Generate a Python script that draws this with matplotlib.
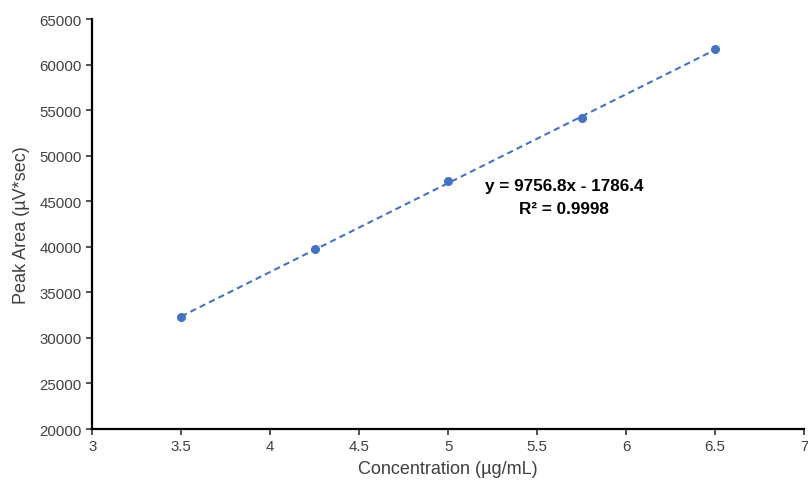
import matplotlib
matplotlib.use("Agg")
import matplotlib.pyplot as plt
import numpy as np

plt.rcParams['font.family'] = ['Liberation Sans', 'DejaVu Sans']

concentration = [3.5, 4.25, 5.0, 5.75, 6.5]
peak_area = [32300, 39750, 47200, 54150, 61700]
slope = 9756.8
intercept = -1786.4
r2 = 0.9998
x_ticks = [3, 3.5, 4, 4.5, 5, 5.5, 6, 6.5, 7]
x_tick_labels = ["3", "3.5", "4", "4.5", "5", "5.5", "6", "6.5", "7"]
y_ticks = [20000, 25000, 30000, 35000, 40000, 45000, 50000, 55000, 60000, 65000]

fig = plt.figure(figsize=(8.08, 4.81), dpi=100)
ax = fig.add_axes([0.114, 0.106, 0.881, 0.852])

color = '#4472C4'
xs = np.array([concentration[0], concentration[-1]])
ax.plot(xs, slope * xs + intercept, linestyle=(0, (3, 2)), color=color, linewidth=1.5)
ax.plot(concentration, peak_area, 'o', color=color, markersize=5.5)

ax.set_xlim(3, 7)
ax.set_ylim(20000, 65000)
ax.set_xticks(x_ticks)
ax.set_xticklabels(x_tick_labels)
ax.set_yticks(y_ticks)
ax.tick_params(labelsize=10.8, colors='#333333', length=4, width=1.2, direction='out')
for lbl in ax.get_xticklabels() + ax.get_yticklabels():
    lbl.set_color('#404040')
ax.spines['top'].set_visible(False)
ax.spines['right'].set_visible(False)
ax.spines['left'].set_linewidth(1.6)
ax.spines['bottom'].set_linewidth(1.6)
ax.spines['left'].set_color('black')
ax.spines['bottom'].set_color('black')

ax.set_xlabel('Concentration (µg/mL)', fontsize=13, color='#404040', labelpad=5)
ax.set_ylabel('Peak Area (µV*sec)', fontsize=13, color='#404040', labelpad=7)

ax.text(0.663, 0.566, f"y = {slope}x - {abs(intercept)}\nR² = {r2}", transform=ax.transAxes,
        ha='center', va='center', fontsize=12.3, fontweight='bold', linespacing=1.6)

fig.savefig('out.png', dpi=100)
